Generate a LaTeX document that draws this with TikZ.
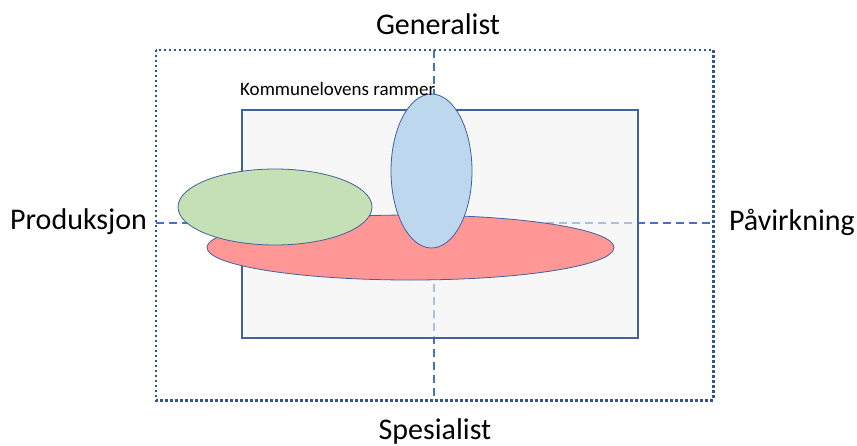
\documentclass[tikz,border=0pt]{standalone}
\usepackage{fontspec}
\setmainfont{Carlito}
\usetikzlibrary{shapes.geometric}
\definecolor{dotblue}{HTML}{2F5597}
\definecolor{dashblue}{HTML}{4472C4}
\definecolor{edgeblue}{HTML}{41619C}
\definecolor{boxgray}{HTML}{F2F2F2}
\definecolor{greenfill}{HTML}{C5E0B4}
\definecolor{redfill}{HTML}{FF9797}
\definecolor{bluefill}{HTML}{BDD7EE}
\tikzset{
  dotframe/.style={draw=dotblue, line width=2.6pt, dash pattern=on 2.6pt off 2.4pt},
  axisline/.style={draw=dashblue, line width=2.2pt, dash pattern=on 8pt off 5pt},
  frame/.style={draw=edgeblue, line width=1.8pt, fill=boxgray, fill opacity=0.6},
  blob/.style={ellipse, draw=edgeblue, line width=0.8pt, inner sep=0pt},
  lbl/.style={font=\fontsize{30}{36}\selectfont, text=black},
}
\begin{document}
\begin{tikzpicture}[x=1pt,y=-1pt]
\useasboundingbox (0,0) rectangle (857,445);
\node[draw=none, minimum width=557pt, minimum height=350pt, inner sep=0pt] (outer) at (434.5,225) {};
\coordinate (top) at (434,50);
\coordinate (bot) at (434,400);
\coordinate (lft) at (156,223);
\coordinate (rgt) at (713,223);
\draw[axisline] (top) -- (bot);
\draw[axisline] (lft) -- (rgt);
\node[frame, minimum width=396pt, minimum height=228pt, inner sep=0pt] (box) at (440,224) {};
\draw[dotframe] (outer.north west) rectangle (outer.south east);
\node[blob, fill=redfill, minimum width=407pt, minimum height=65pt] (red) at (410.5,247.5) {};
\node[blob, fill=greenfill, minimum width=194pt, minimum height=76pt] (green) at (275,207) {};
\node[blob, fill=bluefill, minimum width=81pt, minimum height=154pt] (blue) at (431.5,171) {};
\node[lbl, anchor=center] (gen) at (438,24) {Generalist};
\node[lbl, anchor=center] (spe) at (435,431) {Spesialist};
\node[lbl, anchor=west, inner sep=0pt] (pro) at (10,222) {Produksjon};
\node[lbl, anchor=east, inner sep=0pt] (pav) at (855,222) {Påvirkning};
\node[font=\fontsize{19}{23}\selectfont, anchor=west, inner sep=0pt] (kom) at (240,89) {Kommunelovens rammer};
\end{tikzpicture}
\end{document}
